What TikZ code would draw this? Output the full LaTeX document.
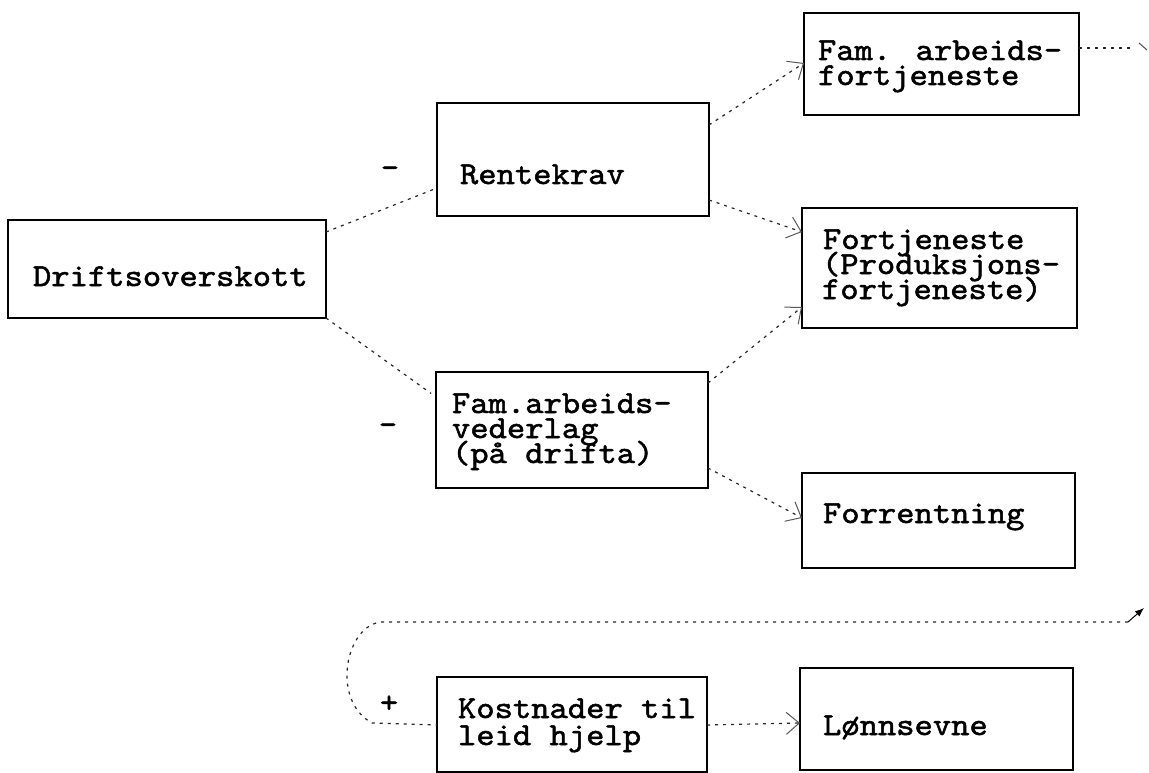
\documentclass[tikz,border=0pt]{standalone}
\usetikzlibrary{arrows.meta}
% typewriter face, slightly emboldened and widened
\font\tyf="[lmmono10-regular]:embolden=1.6;extend=1.09" at 32pt
\begin{document}
\begin{tikzpicture}[x=1pt,y=-1pt,
  box/.style={draw=black, line width=1.3pt, inner sep=0pt, outer sep=0pt,
              anchor=north west, rectangle},
  txt/.style={anchor=base west, inner sep=0pt, outer sep=0pt, font=\tyf},
  sign/.style={inner sep=0pt, font=\tyf},
  conn/.style={draw=black!85, line width=1.2pt, dash pattern=on 3pt off 5pt},
  tip/.style={conn, -{Straight Barb[length=13pt, width=22pt, line width=1pt, color=black!65]}}]
\useasboundingbox (0,0) rectangle (1149,773);

% boxes
\node[box, minimum width=318pt, minimum height=98pt]  (drift) at (8,220)   {};
\node[box, minimum width=272pt, minimum height=113pt] (rente) at (437,103) {};
\node[box, minimum width=272pt, minimum height=116pt] (famv)  at (436,372) {};
\node[box, minimum width=275pt, minimum height=102pt] (famf)  at (804,13)  {};
\node[box, minimum width=275pt, minimum height=120pt] (fort)  at (802,208) {};
\node[box, minimum width=273pt, minimum height=95pt]  (forr)  at (802,473) {};
\node[box, minimum width=270pt, minimum height=95pt]  (kost)  at (437,677) {};
\node[box, minimum width=273pt, minimum height=102pt] (lonn)  at (800,668) {};

% box texts
\node[txt] (tdrift) at (33,286)  {Driftsoverskott};
\node[txt] (trente) at (460,184) {Rentekrav};
\node[txt] (tfamv1) at (452,413) {Fam.arbeids-};
\node[txt] (tfamv2) at (452,438) {vederlag};
\node[txt] (tfamv3) at (452,463) {(på drifta)};
\node[txt] (tfamf1) at (818,60)  {Fam. arbeids-};
\node[txt] (tfamf2) at (818,85)  {fortjeneste};
\node[txt] (tfort1) at (823,249) {Fortjeneste};
\node[txt] (tfort2) at (822,274) {(Produksjons-};
\node[txt] (tfort3) at (822,299) {fortjeneste)};
\node[txt] (tforr)  at (823,523) {Forrentning};
\node[txt] (tkost1) at (458,718) {Kostnader til};
\node[txt] (tkost2) at (458,745) {leid hjelp};
\node[txt] (tlonn)  at (823,735) {Lønnsevne};

% operation signs
\node[sign] (minus1) at (390,172) {-};
\node[sign] (minus2) at (388,429) {-};
\node[sign] (plus)   at (389,704) {+};

% connectors
\draw[conn, shorten >=4pt] ([yshift=-12pt]drift.north east) -- ([yshift=28pt]rente.south west);
\draw[conn, shorten >=6pt] (drift.south east) -- ([yshift=-25pt]famv.north west);
\draw[tip] ([yshift=-22pt]rente.north east) -- ([yshift=-50pt]famf.north west);
\draw[tip] ([yshift=16pt]rente.south east) -- ([yshift=-24pt]fort.north west);
\draw[tip] ([yshift=-11pt]famv.north east) -- ([yshift=21pt]fort.south west);
\draw[tip] ([yshift=20pt]famv.south east) -- ([yshift=-45pt]forr.north west);
\draw[tip] ([yshift=-48pt]kost.north east) -- ([yshift=-55pt]lonn.north west);

% return loop leaving the top right box and coming back to the hired-help box
\coordinate (outR) at (1130,48);
\coordinate (backR) at (1128,622);
\draw[conn] ([yshift=-35pt]famf.north east) -- (outR);
\draw[line width=1pt, black!70] (1139,43) -- (1147,50);
\draw[conn] (backR) -- (382,622)
  .. controls (346,624) and (330,700) .. (372,723) -- ([yshift=-48pt]kost.north west);
\draw[draw=black, line width=1pt, -{Latex[length=9pt, width=7pt]}] (backR) -- (1144,608);
\end{tikzpicture}
\end{document}
